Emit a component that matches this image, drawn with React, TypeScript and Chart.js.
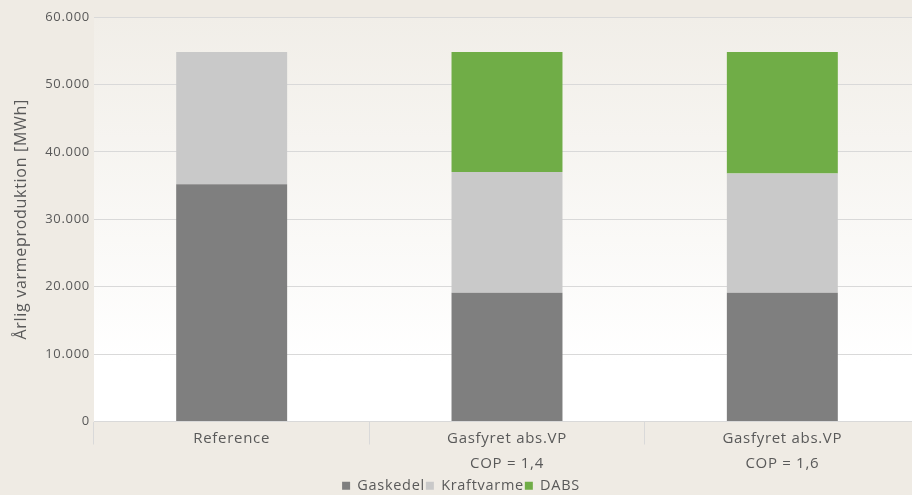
import React, { useEffect, useRef } from "react";
import { Chart, registerables } from "chart.js";

Chart.register(...registerables);

const categories: string[][] = [["Reference"], ["Gasfyret abs.VP", "COP = 1,4"], ["Gasfyret abs.VP", "COP = 1,6"]];
const gaskedel = [35200, 19100, 19100];
const kraftvarme = [19600, 17900, 17700];
const dabs = [0, 17800, 18000];
const yTicks = [0, 10000, 20000, 30000, 40000, 50000, 60000];
const yTickLabels = ["0", "10.000", "20.000", "30.000", "40.000", "50.000", "60.000"];

const FONT = "'Open Sans', sans-serif";
const TXT = "#595959";
const SPACING = "0.7px";

const bgPlugin = {
  id: "bg",
  beforeUpdate(chart: any) {
    (chart.ctx as any).letterSpacing = SPACING;
  },
  beforeDraw(chart: any) {
    const { ctx, chartArea, width, height } = chart;
    (ctx as any).letterSpacing = SPACING;
    ctx.save();
    ctx.fillStyle = "#EFEBE4";
    ctx.fillRect(0, 0, width, height);
    if (chartArea) {
      const g = ctx.createLinearGradient(0, chartArea.top, 0, chartArea.bottom);
      g.addColorStop(0, "#F1EEE8");
      g.addColorStop(0.85, "#FFFFFF");
      g.addColorStop(1, "#FFFFFF");
      ctx.fillStyle = g;
      ctx.fillRect(chartArea.left, chartArea.top, chartArea.right - chartArea.left, chartArea.bottom - chartArea.top);
    }
    ctx.restore();
  },
};

export default function App() {
  const ref = useRef<HTMLCanvasElement>(null);
  useEffect(() => {
    const chart = new Chart(ref.current!, {
      type: "bar",
      data: {
        labels: categories,
        datasets: [
          { label: "Gaskedel", data: gaskedel, backgroundColor: "#7F7F7F" },
          { label: "Kraftvarme", data: kraftvarme, backgroundColor: "#C9C9C9" },
          { label: "DABS", data: dabs, backgroundColor: "#70AD47" },
        ],
      },
      plugins: [bgPlugin],
      options: {
        animation: false,
        responsive: false,
        maintainAspectRatio: false,
        layout: { padding: { top: 17, right: 0, left: 2, bottom: -8 } },
        datasets: { bar: { categoryPercentage: 1, barPercentage: 0.403 } },
        scales: {
          x: {
            stacked: true,
            afterFit(scale: any) {
              scale.height = 56;
            },
            grid: { offset: true, drawOnChartArea: false, tickLength: 23, color: "#D9D9D9" },
            border: { color: "#D9D9D9" },
            ticks: { color: TXT, font: { family: FONT, size: 15, lineHeight: 1.667 }, padding: -18.5 },
          },
          y: {
            stacked: true,
            min: 0,
            max: 60000,
            afterFit(scale: any) {
              scale.width = 92;
            },
            afterBuildTicks(axis: any) {
              axis.ticks = yTicks.map((v) => ({ value: v }));
            },
            grid: { color: "#D9D9D9", drawTicks: false },
            border: { display: false },
            ticks: {
              color: TXT,
              font: { family: FONT, size: 13 },
              padding: 4,
              callback: (v: any) => {
                const i = yTicks.indexOf(Number(v));
                return i >= 0 ? yTickLabels[i] : "";
              },
            },
            title: {
              display: true,
              text: "Årlig varmeproduktion [MWh]",
              color: TXT,
              font: { family: FONT, size: 16 },
              padding: { top: 10, bottom: 10 },
            },
          },
        },
        plugins: {
          legend: {
            position: "bottom",
            labels: {
              color: TXT,
              font: { family: FONT, size: 14.5 },
              boxWidth: 8,
              boxHeight: 8,
              padding: 1,
            },
          },
          tooltip: { enabled: false },
        },
      },
    });
    return () => chart.destroy();
  }, []);
  return (
    <div style={{ position: "absolute", left: 0, top: 0, width: 912, height: 495, overflow: "hidden" }}>
      <canvas ref={ref} width={920} height={495} />
    </div>
  );
}
